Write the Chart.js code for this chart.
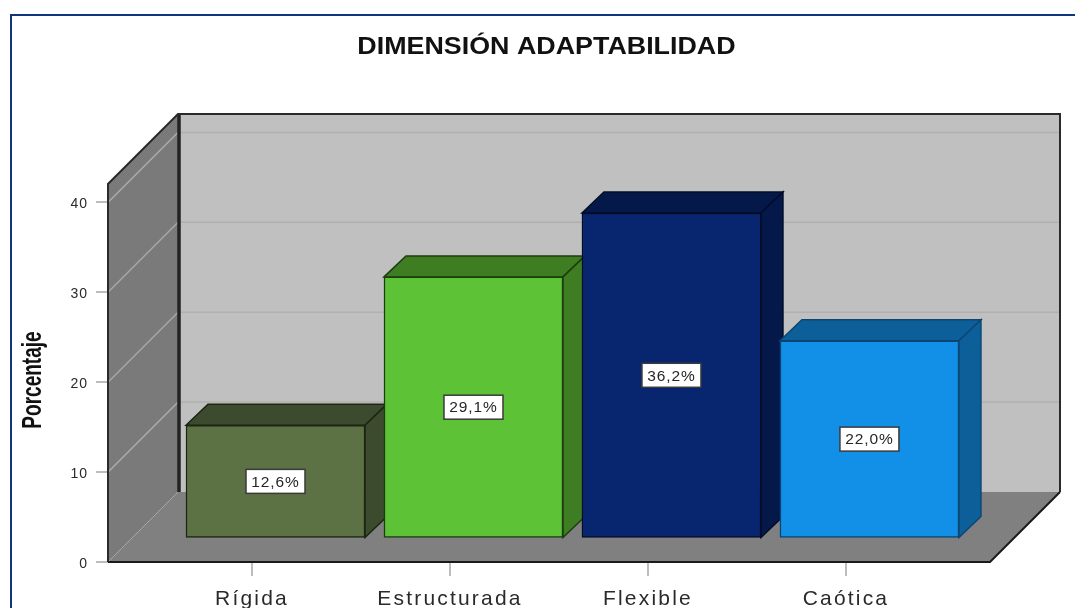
<!DOCTYPE html>
<html><head><meta charset="utf-8">
<style>html,body{margin:0;padding:0;background:#fff;overflow:hidden}canvas{display:block}</style>
<script src="https://cdn.jsdelivr.net/npm/chart.js@4"></script>
</head><body><canvas id="c" width="1075" height="608"></canvas>
<script>
const categories = ['Rígida', 'Estructurada', 'Flexible', 'Caótica'];
const percentages = [12.6, 29.1, 36.2, 22.0];
const percentLabels = ['12,6%', '29,1%', '36,2%', '22,0%'];
const frontColors = ['#5c7245', '#5dc236', '#08266f', '#1290e8'];
const sideColors = ['#3c4a2d', '#3f7d23', '#05184a', '#0c5f98'];
const edgeColors = ['#1c2414', '#1d3d10', '#020c28', '#0a4674'];
const wallTopValue = 42.05;
const wallDepth = { dx: 70, dy: -70 };
const barShift = { dx: 23.5, dy: -23.5 };
const barDepth = { dx: 22, dy: -21 };

function poly(ctx, pts, fill, stroke, lw) {
  ctx.beginPath();
  pts.forEach((p, i) => i ? ctx.lineTo(p[0], p[1]) : ctx.moveTo(p[0], p[1]));
  ctx.closePath();
  if (fill) { ctx.fillStyle = fill; ctx.fill(); }
  if (stroke) { ctx.strokeStyle = stroke; ctx.lineWidth = lw; ctx.stroke(); }
}
function line(ctx, pts, color, lw) {
  ctx.beginPath();
  pts.forEach((p, i) => i ? ctx.lineTo(p[0], p[1]) : ctx.moveTo(p[0], p[1]));
  ctx.strokeStyle = color; ctx.lineWidth = lw; ctx.stroke();
}
function spaced(obj, name, spacing) {
  const orig = obj[name];
  obj[name] = function () {
    const ctx = this.ctx;
    ctx.save();
    ctx.letterSpacing = spacing;
    orig.apply(this, arguments);
    ctx.restore();
  };
}
// the reference's bitmap stretches its title and condenses its axis title
function stretched(obj, name, sx, sy, cx, cy) {
  const orig = obj[name];
  obj[name] = function () {
    const ctx = this.ctx;
    ctx.save();
    ctx.translate(cx, cy);
    ctx.scale(sx, sy);
    ctx.translate(-cx, -cy);
    orig.apply(this, arguments);
    ctx.restore();
  };
}

const scene = {
  id: 'scene',
  afterLayout(chart) {
    if (chart.$spaced) return;
    chart.$spaced = true;
    spaced(chart.scales.x, 'drawLabels', '2.2px');
    spaced(chart.scales.y, 'drawLabels', '1px');
    stretched(chart.titleBlock, 'draw', 1.167, 1, 546.5, 45);
    const s = chart.scales.y;
    stretched(s, 'drawTitle', 1, 0.68, 0, (s.top + s.bottom) / 2);
  },
  beforeDraw(chart) {
    const ctx = chart.ctx;
    line(ctx, [[11, 608], [11, 15], [1075, 15]], '#12347a', 2);
  },
  beforeDatasetsDraw(chart) {
    const ctx = chart.ctx, y = chart.scales.y;
    const L = chart.chartArea.left, R = 990, B = y.getPixelForValue(0), T = y.getPixelForValue(wallTopValue);
    const dx = wallDepth.dx, dy = wallDepth.dy;
    poly(ctx, [[L + dx, T + dy], [R + dx, T + dy], [R + dx, B + dy], [L + dx, B + dy]], '#c0c0c0');
    poly(ctx, [[L, T], [L + dx, T + dy], [L + dx, B + dy], [L, B]], '#7a7a7a');
    poly(ctx, [[L, B], [L + dx, B + dy], [R + dx, B + dy], [R, B]], '#808080');
    y.ticks.forEach(t => {
      if (t.value === 0) return;
      const p = y.getPixelForValue(t.value);
      line(ctx, [[L, p], [L + dx, p + dy]], '#a8a8a8', 1.5);
      line(ctx, [[L + dx, p + dy], [R + dx, p + dy]], '#b0b0b0', 1.5);
    });
    ctx.save();
    ctx.setLineDash([2, 2]);
    line(ctx, [[L, B], [L + dx, B + dy]], '#b0b0b0', 1);
    ctx.restore();
    line(ctx, [[L + dx + 1, T + dy], [L + dx + 1, B + dy]], '#222', 3.5);
    line(ctx, [[L, B], [L, T], [L + dx, T + dy], [R + dx, T + dy], [R + dx, B + dy]], '#2a2a2a', 2);
    line(ctx, [[L, B], [R, B], [R + dx, B + dy]], '#1a1a1a', 2);
    ctx.save();
    ctx.translate(barShift.dx, barShift.dy);
    const ddx = barDepth.dx, ddy = barDepth.dy;
    chart.getDatasetMeta(0).data.forEach((bar, i) => {
      const l = bar.x - bar.width / 2, r = bar.x + bar.width / 2, t = bar.y, b = bar.base;
      poly(ctx, [[l, t], [l + ddx, t + ddy], [r + ddx, t + ddy], [r, t]], sideColors[i], edgeColors[i], 1.5);
      poly(ctx, [[r, t], [r + ddx, t + ddy], [r + ddx, b + ddy], [r, b]], sideColors[i], edgeColors[i], 1.5);
    });
  },
  afterDatasetsDraw(chart) {
    const ctx = chart.ctx;
    chart.getDatasetMeta(0).data.forEach((bar, i) => {
      const cx = bar.x, cy = (bar.y + bar.base) / 2;
      ctx.fillStyle = '#fff';
      ctx.strokeStyle = '#3a3a3a';
      ctx.lineWidth = 1.5;
      ctx.fillRect(cx - 29.5, cy - 12, 59, 24);
      ctx.strokeRect(cx - 29.5, cy - 12, 59, 24);
      ctx.fillStyle = '#262626';
      ctx.font = '15.5px "Liberation Sans"';
      ctx.letterSpacing = '0.9px';
      ctx.textAlign = 'center';
      ctx.textBaseline = 'middle';
      ctx.fillText(percentLabels[i], cx, cy + 1);
      ctx.letterSpacing = '0px';
    });
    ctx.restore();
  }
};

new Chart(document.getElementById('c'), {
  type: 'bar',
  plugins: [scene],
  data: {
    labels: categories,
    datasets: [{
      data: percentages.map((v, i) => ({ x: i, y: v })),
      backgroundColor: frontColors,
      borderColor: edgeColors,
      borderWidth: 1.5,
      borderSkipped: false,
      barThickness: 179,
      clip: false
    }]
  },
  options: {
    responsive: false,
    animation: false,
    layout: { padding: { left: 18, top: 33.5, right: 0, bottom: 0 } },
    plugins: {
      legend: { display: false },
      tooltip: { enabled: false },
      title: {
        display: true,
        text: 'DIMENSIÓN ADAPTABILIDAD',
        color: '#111',
        font: { family: '"Liberation Sans"', size: 23, weight: 'bold', lineHeight: 1.2 },
        padding: { top: 0, bottom: 136.9 }
      }
    },
    scales: {
      x: {
        type: 'linear',
        offset: false,
        min: -0.7273,
        max: 4.157,
        afterBuildTicks(s) { s.ticks = categories.map((c, i) => ({ value: i })); },
        afterFit(s) { s.height = 46; },
        grid: { offset: false, drawOnChartArea: false, drawTicks: true, tickLength: 14, color: '#bdbdbd', lineWidth: 2 },
        border: { display: false },
        ticks: {
          autoSkip: false, maxRotation: 0, padding: 11, color: '#2a2a2a',
          font: { family: '"Liberation Sans"', size: 21 },
          callback: v => categories[v]
        }
      },
      y: {
        min: 0,
        max: 40.49,
        afterFit(s) { s.width = 90; },
        grid: { drawOnChartArea: false, drawTicks: true, tickLength: 12, color: '#bdbdbd', lineWidth: 2 },
        border: { display: false },
        title: {
          display: true,
          text: 'Porcentaje',
          color: '#111',
          font: { family: '"Liberation Sans"', size: 28, weight: 'bold', lineHeight: 1.07 },
          padding: { top: 0, bottom: 0 }
        },
        ticks: {
          stepSize: 10, includeBounds: false, padding: 8, labelOffset: 2, color: '#2a2a2a',
          font: { family: '"Liberation Sans"', size: 14 }
        }
      }
    }
  }
});
</script></body></html>
